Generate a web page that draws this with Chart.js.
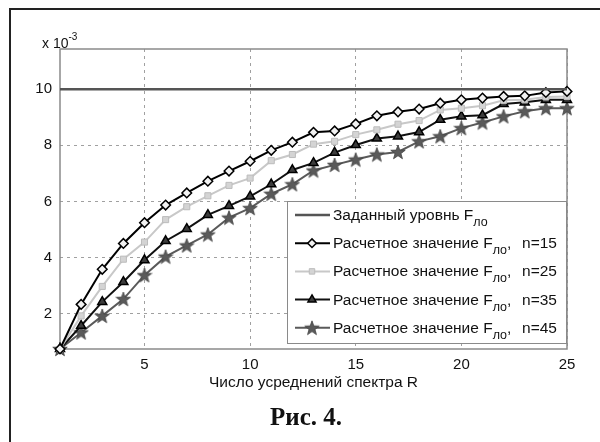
<!DOCTYPE html>
<html>
<head>
<meta charset="utf-8">
<script src="https://cdn.jsdelivr.net/npm/chart.js@4.4.0/dist/chart.umd.min.js"></script>
<style>
body { margin: 0; background: #fff; }
#wrap { position: relative; width: 600px; height: 442px; overflow: hidden; font-family: "Liberation Sans", Arial, sans-serif; color: #111; }
#frame { position: absolute; left: 9px; top: 8px; width: 700px; height: 700px; border: 2px solid #222; }
#box { position: absolute; left: 0; top: 0; width: 600px; height: 442px; }
#expo { position: absolute; left: 42px; top: 31px; font-size: 14px; line-height: 16px; }
#expo sup { font-size: 10px; position: relative; top: -2px; }
#xtitle { position: absolute; left: 60px; width: 507px; top: 373px; text-align: center; font-size: 15.5px; }
#caption { position: absolute; left: 0; width: 612px; top: 403px; text-align: center; font: bold 25px "Liberation Serif", "Times New Roman", serif; }
</style>
</head>
<body>
<div id="wrap">
  <div id="frame"></div>
  <div id="box"><canvas id="fig"></canvas></div>
  <div id="expo">x 10<sup>-3</sup></div>
  <div id="xtitle">Число усреднений спектра R</div>
  <div id="caption">Рис. 4.</div>
</div>
<script>
// число усреднений R
var rValues = [1, 2, 3, 4, 5, 6, 7, 8, 9, 10, 11, 12, 13, 14, 15, 16, 17, 18, 19, 20, 21, 22, 23, 24, 25];
var targetLevel = 10;
var fN15 = [0.74, 2.33, 3.58, 4.50, 5.24, 5.87, 6.30, 6.72, 7.08, 7.43, 7.82, 8.11, 8.46, 8.51, 8.76, 9.05, 9.19, 9.29, 9.50, 9.62, 9.68, 9.74, 9.76, 9.88, 9.92];
var fN25 = [0.74, 1.92, 2.97, 3.94, 4.55, 5.35, 5.81, 6.20, 6.57, 6.83, 7.45, 7.67, 8.04, 8.14, 8.38, 8.55, 8.75, 8.88, 9.26, 9.32, 9.41, 9.60, 9.62, 9.72, 9.74];
var fN35 = [0.74, 1.57, 2.42, 3.13, 3.91, 4.59, 5.02, 5.52, 5.84, 6.18, 6.61, 7.12, 7.37, 7.74, 8.01, 8.24, 8.32, 8.47, 8.91, 9.03, 9.07, 9.47, 9.53, 9.62, 9.62];
var fN45 = [0.74, 1.33, 1.92, 2.52, 3.37, 4.03, 4.43, 4.82, 5.42, 5.76, 6.27, 6.61, 7.10, 7.30, 7.49, 7.67, 7.76, 8.14, 8.32, 8.61, 8.81, 9.03, 9.21, 9.32, 9.32];
var sampleSizes = [15, 25, 35, 45];
var xTicks = [5, 10, 15, 20, 25];
var yTicks = [2, 4, 6, 8, 10];

var fontFamily = '"Liberation Sans", Arial, sans-serif';

function pts(arr) {
    return rValues.map(function (r, i) { return { x: r, y: arr[i] }; });
}

// filled pentagram like the matlab marker
var starImg = document.createElement('canvas');
starImg.width = 16;
starImg.height = 16;
(function () {
    var c = starImg.getContext('2d');
    c.beginPath();
    for (var k = 0; k < 10; k++) {
        var rad = k % 2 === 0 ? 7.6 : 3.1;
        var a = -Math.PI / 2 + k * Math.PI / 5;
        var px = 8 + rad * Math.cos(a), py = 8.6 + rad * Math.sin(a);
        if (k === 0) c.moveTo(px, py); else c.lineTo(px, py);
    }
    c.closePath();
    c.fillStyle = '#5a5a5a';
    c.fill();
    c.strokeStyle = '#444';
    c.lineWidth = 0.8;
    c.stroke();
})();

var boxPlugin = {
    id: 'axesBox',
    beforeDatasetsDraw: function (chart) {
        var a = chart.chartArea, ctx = chart.ctx;
        ctx.save();
        ctx.strokeStyle = '#8a8a8a';
        ctx.lineWidth = 1.5;
        ctx.strokeRect(a.left, a.top, a.right - a.left, a.bottom - a.top);
        ctx.restore();
    }
};

var legendPlugin = {
    id: 'insideLegend',
    afterDatasetsDraw: function (chart) {
        var a = chart.chartArea, ctx = chart.ctx;
        var right = a.right, bottom = a.bottom - 5;
        var left = right - 280, top = bottom - 143;
        ctx.save();
        ctx.fillStyle = '#fff';
        ctx.fillRect(left, top, right - left, bottom - top);
        ctx.strokeStyle = '#8a8a8a';
        ctx.lineWidth = 1;
        ctx.strokeRect(left + 0.5, top + 0.5, right - left - 1, bottom - top - 1);

        chart.data.datasets.forEach(function (ds, i) {
            var y = top + 14 + i * 28.2;
            ctx.strokeStyle = ds.borderColor;
            ctx.lineWidth = ds.borderWidth;
            ctx.beginPath();
            ctx.moveTo(left + 8, y);
            ctx.lineTo(left + 43, y);
            ctx.stroke();
            if (ds.pointRadius > 0) {
                ctx.fillStyle = ds.pointBackgroundColor;
                ctx.strokeStyle = ds.pointBorderColor;
                ctx.lineWidth = ds.pointBorderWidth;
                Chart.helpers.drawPoint(ctx, {
                    pointStyle: ds.pointStyle,
                    radius: ds.pointRadius * 0.9,
                    rotation: 0,
                    borderWidth: ds.pointBorderWidth
                }, left + 25, y);
            }
            var x = left + 46;
            ctx.fillStyle = '#111';
            ctx.textBaseline = 'alphabetic';
            ctx.font = '15.5px ' + fontFamily;
            ctx.fillText(ds.legMain, x, y + 5);
            x += ctx.measureText(ds.legMain).width;
            ctx.font = '12.5px ' + fontFamily;
            ctx.fillText(ds.legSub, x, y + 11);
            x += ctx.measureText(ds.legSub).width;
            if (ds.legRest) {
                ctx.font = '15.5px ' + fontFamily;
                ctx.fillText(',', x, y + 5);
                ctx.fillText(ds.legRest, x + 15, y + 5);
            }
        });
        ctx.restore();
    }
};

var ctx = document.getElementById('fig').getContext('2d');
var lineChart = new Chart(ctx, {
    type: 'line',
    data: {
        datasets: [{
            data: [{ x: rValues[0], y: targetLevel }, { x: rValues[rValues.length - 1], y: targetLevel }],
            borderColor: '#555',
            borderWidth: 2.5,
            pointRadius: 0,
            legMain: 'Заданный уровнь F', legSub: 'ло', legRest: ''
        }, {
            data: pts(fN15),
            borderColor: '#000',
            borderWidth: 2,
            pointStyle: 'rectRot',
            pointRadius: 4.8,
            pointBackgroundColor: '#f2f2f2',
            pointBorderColor: '#000',
            pointBorderWidth: 1.5,
            legMain: 'Расчетное значение F', legSub: 'ло', legRest: 'n=' + sampleSizes[0]
        }, {
            data: pts(fN25),
            borderColor: '#c8c8c8',
            borderWidth: 2,
            pointStyle: 'rect',
            pointRadius: 4.3,
            pointBackgroundColor: '#d4d4d4',
            pointBorderColor: '#bcbcbc',
            pointBorderWidth: 1,
            legMain: 'Расчетное значение F', legSub: 'ло', legRest: 'n=' + sampleSizes[1]
        }, {
            data: pts(fN35),
            borderColor: '#111',
            borderWidth: 2,
            pointStyle: 'triangle',
            pointRadius: 5.2,
            pointBackgroundColor: '#3c3c3c',
            pointBorderColor: '#000',
            pointBorderWidth: 1.5,
            legMain: 'Расчетное значение F', legSub: 'ло', legRest: 'n=' + sampleSizes[2]
        }, {
            data: pts(fN45),
            borderColor: '#5a5a5a',
            borderWidth: 2,
            pointStyle: starImg,
            pointRadius: 6,
            pointBackgroundColor: '#5a5a5a',
            pointBorderColor: '#444',
            pointBorderWidth: 1,
            legMain: 'Расчетное значение F', legSub: 'ло', legRest: 'n=' + sampleSizes[3]
        }]
    },
    options: {
        responsive: true,
        maintainAspectRatio: false,
        animation: false,
        clip: false,
        elements: { line: { tension: 0 } },
        layout: { padding: { left: 0, top: 49, right: 33, bottom: 0 } },
        plugins: {
            legend: { display: false },
            tooltip: { enabled: false }
        },
        scales: {
            x: {
                type: 'linear',
                min: 1,
                max: 25,
                afterBuildTicks: function (axis) { axis.ticks = xTicks.map(function (v) { return { value: v }; }); },
                afterFit: function (s) { s.height = 93; },
                grid: { color: '#a0a0a0', drawTicks: false, lineWidth: 1 },
                border: { display: false, dash: [3, 4] },
                ticks: { padding: 7, color: '#111', maxRotation: 0, font: { size: 15, family: fontFamily } }
            },
            y: {
                min: 0.74,
                max: 11.43,
                afterBuildTicks: function (axis) { axis.ticks = yTicks.map(function (v) { return { value: v }; }); },
                afterFit: function (s) { s.width = 60; },
                grid: { color: '#a0a0a0', drawTicks: false, lineWidth: 1 },
                border: { display: false, dash: [3, 4] },
                ticks: { padding: 8, color: '#111', font: { size: 15, family: fontFamily } }
            }
        }
    },
    plugins: [boxPlugin, legendPlugin]
});
</script>
</body>
</html>
